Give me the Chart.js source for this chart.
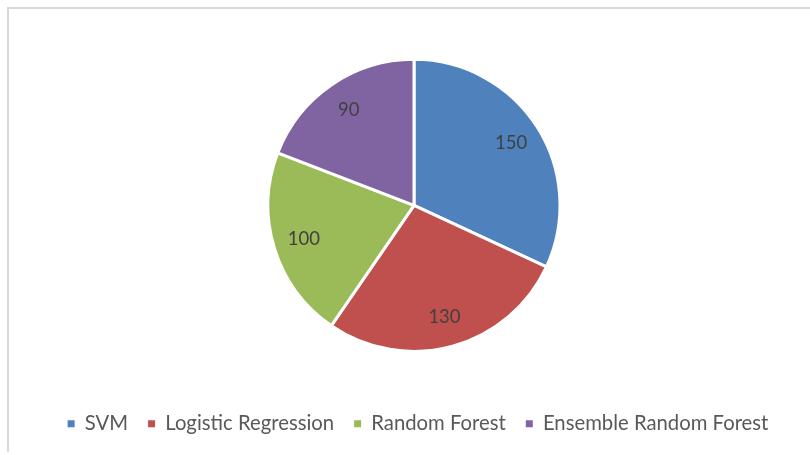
<!DOCTYPE html>
<html>
<head>
<meta charset="utf-8">
<script src="https://cdn.jsdelivr.net/npm/chart.js@4/dist/chart.umd.min.js"></script>
<style>
  html, body { margin: 0; padding: 0; background: #ffffff; }
  #wrap { position: relative; width: 810px; height: 455px; overflow: hidden; }
  #frame { position: absolute; left: 7px; top: 7px; width: 900px; height: 445px;
           border-left: 2px solid #d9d9d9; border-top: 2px solid #d9d9d9; box-sizing: border-box; }
  canvas { position: absolute; left: 0; top: 0; }
</style>
</head>
<body>
<div id="wrap">
  <div id="frame"></div>
  <canvas id="c" width="810" height="455"></canvas>
</div>
<script>
const categories = ["SVM", "Logistic Regression", "Random Forest", "Ensemble Random Forest"];
const values = [150, 130, 100, 90];
const colors = ["#4F81BD", "#C0504D", "#9BBB59", "#8064A2"];

const sliceLabels = {
  id: 'sliceLabels',
  afterDatasetsDraw(chart) {
    const ctx = chart.ctx;
    const meta = chart.getDatasetMeta(0);
    ctx.save();
    ctx.font = '18.5px Lato';
    ctx.fillStyle = '#404040';
    ctx.textAlign = 'center';
    ctx.textBaseline = 'middle';
    meta.data.forEach((arc, i) => {
      const p = arc.getProps(['x', 'y', 'startAngle', 'endAngle', 'outerRadius'], true);
      const mid = (p.startAngle + p.endAngle) / 2;
      const r = p.outerRadius * 0.79;
      ctx.fillText(String(chart.data.datasets[0].data[i]), p.x + Math.cos(mid) * r, p.y + Math.sin(mid) * r);
    });
    ctx.restore();
  }
};

// shift the plot area slightly left so the pie sits where the reference has it
const shiftArea = {
  id: 'shiftArea',
  afterLayout(chart) {
    chart.chartArea.left -= 4;
    chart.chartArea.right -= 4;
  }
};

new Chart(document.getElementById('c'), {
  type: 'pie',
  data: {
    labels: categories,
    datasets: [{
      data: values,
      backgroundColor: colors,
      borderColor: '#ffffff',
      borderWidth: 3,
      hoverOffset: 0
    }]
  },
  options: {
    responsive: false,
    animation: false,
    radius: 146,
    layout: { padding: { top: 17, bottom: 11, left: 26, right: 0 } },
    plugins: {
      tooltip: { enabled: false },
      legend: {
        position: 'bottom',
        labels: {
          font: { family: 'Lato', size: 20.3 },
          color: '#595959',
          usePointStyle: true,
          pointStyle: 'rect',
          boxWidth: 7,
          boxHeight: 7,
          padding: 20,
          generateLabels(chart) {
            return Chart.controllers.pie.overrides.plugins.legend.labels.generateLabels(chart)
              .map(item => Object.assign(item, { lineWidth: 0, strokeStyle: 'rgba(0,0,0,0)' }));
          }
        }
      }
    }
  },
  plugins: [sliceLabels, shiftArea]
});
</script>
</body>
</html>
